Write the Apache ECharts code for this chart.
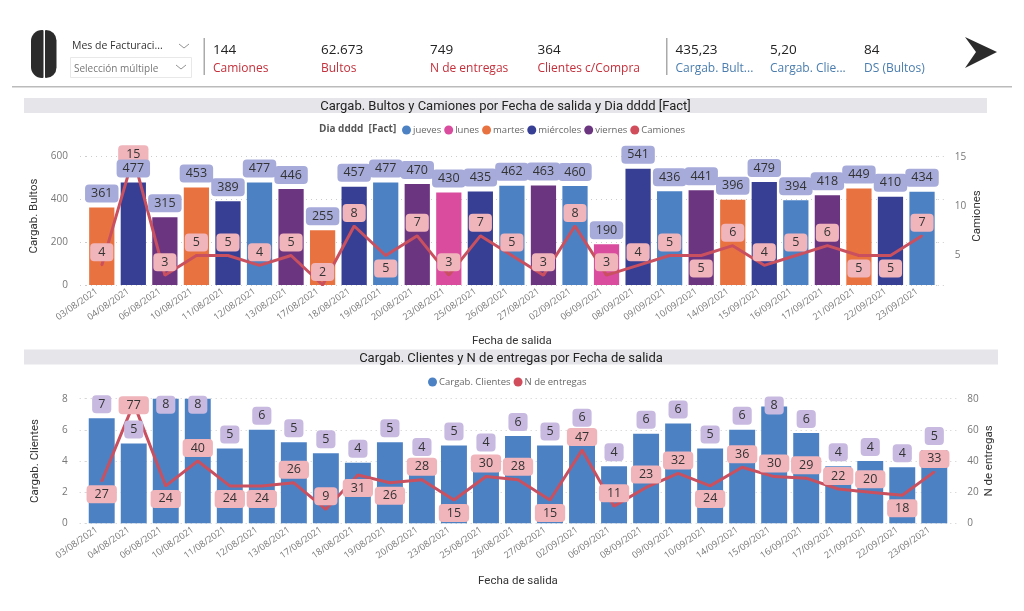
<!DOCTYPE html>
<html>
<head>
<meta charset="utf-8">
<title>Cargabilidad</title>
<style>
  html, body { margin: 0; padding: 0; background: #fff; }
  #main { width: 1024px; height: 611px; }
</style>
<script src="https://cdn.jsdelivr.net/npm/echarts@6/dist/echarts.min.js"></script>
</head>
<body>
<div id="main"></div>
<script>
// datos
var fechas = ['03/08/2021','04/08/2021','06/08/2021','10/08/2021','11/08/2021','12/08/2021','13/08/2021','17/08/2021','18/08/2021','19/08/2021','20/08/2021','23/08/2021','25/08/2021','26/08/2021','27/08/2021','02/09/2021','06/09/2021','08/09/2021','09/09/2021','10/09/2021','14/09/2021','15/09/2021','16/09/2021','17/09/2021','21/09/2021','22/09/2021','23/09/2021'];
var diaFecha = ['martes','miércoles','viernes','martes','miércoles','jueves','viernes','martes','miércoles','jueves','viernes','lunes','miércoles','jueves','viernes','jueves','lunes','miércoles','jueves','viernes','martes','miércoles','jueves','viernes','martes','miércoles','jueves'];
var dias = ['jueves','lunes','martes','miércoles','viernes'];
var cargabBultos = [361,477,315,453,389,477,446,255,457,477,470,430,435,462,463,460,190,541,436,441,396,479,394,418,449,410,434];
var camiones = [4,15,3,5,5,4,5,2,8,5,7,3,7,5,3,8,3,4,5,5,6,4,5,6,5,5,7];
var cargabClientes = [6.75,5.13,8,8,4.8,6,5.2,4.5,3.88,5.2,4,5,4.29,5.6,5,5.88,3.67,5.75,6.4,4.8,6,7.5,5.8,3.67,4,3.6,4.71];
var entregas = [27,77,24,40,24,24,26,9,31,26,28,15,30,28,15,47,11,23,32,24,36,30,29,22,20,18,33];

var kpiRojos = [['144','Camiones'],['62.673','Bultos'],['749','N de entregas'],['364','Clientes c/Compra']];
var kpiAzules = [['435,23','Cargab. Bult...'],['5,20','Cargab. Clie...'],['84','DS (Bultos)']];

// colores
var colorDia = { jueves:'#4C82C4', lunes:'#D94C9E', martes:'#E97340', 'miércoles':'#373F95', viernes:'#6C3580' };
var rojoLinea = '#C9505F';
var rojoLeyenda = '#D14D5C';
var azulBarra = '#4C82C4';
var fuente = 'Open Sans';
var fuenteTitulo = 'Roboto';

// etiquetas de linea que van debajo del punto, y ajustes de las que chocan con el borde
var camionesAbajo = [9,19,24,25];
var entregasAbajo = [0,2,4,5,8,9,11,14,19,25];
var ajusteCamiones = {1:10};
var ajusteEntregas = {1:15};
var ajusteClientes = {2:20,3:20,21:13};

function lineaData(valores, abajo, ajuste) {
    return valores.map(function (v, i) {
        return { value: v, label: { position: abajo.indexOf(i) >= 0 ? 'bottom' : 'top', offset: [0, ajuste[i] || 0] } };
    });
}
function etiqueta(fondo, relleno, formato) {
    return {
        show: true, position: 'top', distance: 5, formatter: formato,
        fontFamily: fuente, fontSize: 12.5, color: '#333', lineHeight: 14,
        backgroundColor: fondo, borderRadius: 4, padding: [2, relleno]
    };
}
function ejeX(grid, gap) {
    return {
        type: 'category', gridIndex: grid, data: fechas,
        name: 'Fecha de salida', nameLocation: 'middle', nameGap: gap,
        nameTextStyle: { fontFamily: fuenteTitulo, fontSize: 11.5, color: '#333' },
        axisLine: { show: false }, axisTick: { show: false },
        axisLabel: { rotate: 35, interval: 0, margin: 2, padding: [0, 6, 0, 0], fontFamily: fuente, fontSize: 9.2, color: '#777' }
    };
}
function ejeY(grid, nombre, max, intervalo, subir) {
    return {
        type: 'value', gridIndex: grid, position: 'left', min: 0, max: max, interval: intervalo,
        name: nombre, nameLocation: 'middle', nameGap: 45,
        nameTextStyle: { fontFamily: fuenteTitulo, fontSize: 11.5, color: '#333', padding: [0, 0, 0, subir] },
        axisLine: { show: false },
        axisTick: { show: true, length: 10, lineStyle: { color: '#ccc', type: [1, 4] } },
        axisLabel: { margin: 18, fontFamily: fuente, fontSize: 10, color: '#777' },
        splitLine: { show: true, lineStyle: { color: '#ccc', type: [1, 4] } }
    };
}
function ejeDerecho(grid, nombre, min, max, valores, gap, subir) {
    return {
        type: 'value', gridIndex: grid, position: 'right', min: min, max: max,
        name: nombre, nameLocation: 'middle', nameGap: gap, nameRotate: 90, nameMoveOverlap: false,
        nameTextStyle: { fontFamily: fuenteTitulo, fontSize: 11.5, color: '#333', padding: [0, 0, 0, subir] },
        axisLine: { show: false }, axisTick: { show: false }, splitLine: { show: false },
        axisLabel: { margin: 17, customValues: valores, fontFamily: fuente, fontSize: 10, color: '#777' }
    };
}
// solo prolonga los puntos de la cuadricula por la derecha
function ejePuntos(grid, max, intervalo) {
    return {
        type: 'value', gridIndex: grid, position: 'right', min: 0, max: max, interval: intervalo,
        axisLine: { show: false }, axisLabel: { show: false }, splitLine: { show: false },
        axisTick: { show: true, length: 10, lineStyle: { color: '#ccc', type: [1, 4] } }
    };
}
function leyenda(left, top, nombres) {
    return {
        left: left, top: top, data: nombres, icon: 'circle', itemWidth: 9, itemHeight: 9, itemGap: 3,
        padding: 0, selectedMode: false,
        textStyle: { fontFamily: fuente, fontSize: 9.5, color: '#666', padding: [0, 0, 0, -3] }
    };
}
// las etiquetas de las barras van en una serie aparte para quedar sobre la linea roja
function serieEtiquetas(nombre, ejeXi, ejeYi, datos, label) {
    return {
        name: nombre, type: 'line', xAxisIndex: ejeXi, yAxisIndex: ejeYi, z: 6, silent: true,
        symbol: 'circle', symbolSize: 0, showSymbol: true,
        lineStyle: { opacity: 0 }, label: label, data: datos
    };
}

var series = dias.map(function (dia) {
    return {
        name: dia, type: 'bar', stack: 'bultos', xAxisIndex: 0, yAxisIndex: 0,
        barCategoryGap: '20%', itemStyle: { color: colorDia[dia] },
        data: cargabBultos.map(function (v, i) { return diaFecha[i] === dia ? v : null; })
    };
});
series.push({
    name: 'Camiones', type: 'line', xAxisIndex: 0, yAxisIndex: 1, z: 5,
    symbol: 'circle', symbolSize: 2, showSymbol: true,
    lineStyle: { color: rojoLinea, width: 3 }, itemStyle: { color: rojoLeyenda },
    label: Object.assign(etiqueta('#F0B4BB', 8), { distance: 3 }),
    data: lineaData(camiones, camionesAbajo, ajusteCamiones)
});
series.push(serieEtiquetas('etiquetas bultos', 0, 0, cargabBultos, etiqueta('#A6ABDA', 6)));
series.push({
    name: 'Cargab. Clientes', type: 'bar', xAxisIndex: 1, yAxisIndex: 3,
    barCategoryGap: '19%', itemStyle: { color: azulBarra },
    data: cargabClientes
});
series.push({
    name: 'N de entregas', type: 'line', xAxisIndex: 1, yAxisIndex: 4, z: 5,
    symbol: 'circle', symbolSize: 2, showSymbol: true,
    lineStyle: { color: rojoLinea, width: 3 }, itemStyle: { color: rojoLeyenda },
    label: Object.assign(etiqueta('#F0B4BB', 8), { distance: 3 }),
    data: lineaData(entregas, entregasAbajo, ajusteEntregas)
});
series.push(serieEtiquetas('etiquetas clientes', 1, 3,
    cargabClientes.map(function (v, i) {
        return { value: v, label: { offset: [0, ajusteClientes[i] || 0] } };
    }),
    etiqueta('#C7B9E0', 6, function (p) { return Math.round(p.value); })
));

// cabecera
var grafico = [];
function texto(x, y, t, size, color, extra) {
    grafico.push({ type: 'text', x: x, y: y, silent: true, style: Object.assign({
        text: t, fontFamily: fuente, fontSize: size, fill: color, textVerticalAlign: 'middle', verticalAlign: 'middle'
    }, extra || {}) });
}
function rect(x, y, w, h, fill, r, stroke) {
    grafico.push({ type: 'rect', silent: true, shape: { x: x, y: y, width: w, height: h, r: r || 0 },
        style: { fill: fill, stroke: stroke || null } });
}
function quiebre(x, y) {
    grafico.push({ type: 'polyline', silent: true, shape: { points: [[x, y], [x + 5, y + 4], [x + 10, y]] },
        style: { stroke: '#777', lineWidth: 0.8, fill: null } });
}
rect(31, 30, 12.5, 48, '#2B2B2B', [11, 1, 1, 11]);
rect(45, 30, 11.5, 48, '#2B2B2B', [1, 11, 11, 1]);
texto(72, 46, 'Mes de Facturaci...', 10.5, '#333');
quiebre(179, 44);
rect(70.5, 57.5, 121, 20, '#fff', 0, '#E8E8E8');
texto(74, 69, 'Selección múltiple', 10, '#777');
quiebre(176, 65);
rect(203.5, 38, 1.5, 37, '#AAA');
rect(666, 38, 1.5, 37, '#AAA');
[213, 321, 430, 537.5].forEach(function (x, i) {
    texto(x, 50.5, kpiRojos[i][0], 13.5, '#222');
    texto(x, 68.5, kpiRojos[i][1], 12, '#C4303B');
});
[675.5, 770, 864].forEach(function (x, i) {
    texto(x, 50.5, kpiAzules[i][0], 13.5, '#222');
    texto(x, 68.5, kpiAzules[i][1], 12, '#4A7DAE');
});
grafico.push({ type: 'polygon', silent: true, shape: { points: [[965, 37], [997, 52], [965, 68], [976, 52]] }, style: { fill: '#2B2B2B' } });
rect(12, 86, 1000, 1.5, '#BBB');
rect(24, 98, 963, 15, '#E6E6EA');
texto(505.5, 106.5, 'Cargab. Bultos y Camiones por Fecha de salida y Dia dddd [Fact]', 13, '#222', { fontFamily: fuenteTitulo, align: 'center', textAlign: 'center' });
texto(319, 129.5, 'Dia dddd  [Fact]', 10, '#555', { fontWeight: 'bold' });
rect(24, 349.5, 974, 15, '#E6E6EA');
texto(511, 358.5, 'Cargab. Clientes y N de entregas por Fecha de salida', 13, '#222', { fontFamily: fuenteTitulo, align: 'center', textAlign: 'center' });

var myChart = echarts.init(document.getElementById('main'));
myChart.setOption({
    animation: false,
    backgroundColor: '#fff',
    graphic: grafico,
    legend: [
        leyenda(402, 125, dias.concat(['Camiones'])),
        leyenda(428, 377, ['Cargab. Clientes', 'N de entregas'])
    ],
    grid: [
        { left: 86, top: 156, width: 851.8, height: 129 },
        { left: 85.7, top: 398.7, width: 864.6, height: 124.6 }
    ],
    xAxis: [ejeX(0, 50), ejeX(1, 52)],
    yAxis: [
        ejeY(0, 'Cargab. Bultos', 600, 200, 9),
        ejeDerecho(0, 'Camiones', 2, 15.12, [5, 10, 15], 33, 9),
        ejePuntos(0, 600, 200),
        ejeY(1, 'Cargab. Clientes', 8, 2, 0),
        ejeDerecho(1, 'N de entregas', 0, 80, [0, 20, 40, 60, 80], 33, 0),
        ejePuntos(1, 8, 2)
    ],
    series: series
});
</script>
</body>
</html>
